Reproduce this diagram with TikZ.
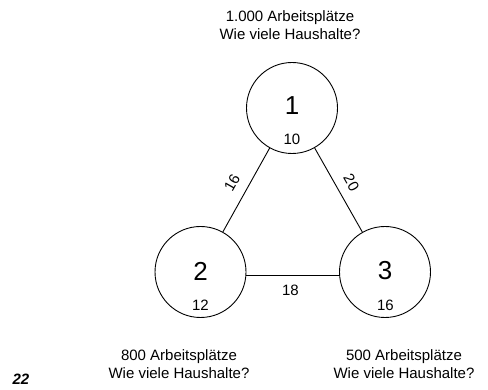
\documentclass[tikz,border=0pt]{standalone}
\usepackage{fontspec}
\setmainfont{Liberation Sans}
\begin{document}
\begin{tikzpicture}[x=1pt,y=-1pt,
  city/.style={circle,draw,line width=0.9pt,minimum size=91pt,inner sep=0pt},
  big/.style={font=\fontsize{26}{30}\selectfont},
  txt/.style={font=\fontsize{15}{18}\selectfont,align=center},
  lbl/.style={font=\fontsize{15}{18}\selectfont,inner sep=0pt},
  edge/.style={line width=0.9pt}]
\useasboundingbox (0,0) rectangle (488,390);
\node[city] (n1) at (292,108) {};
\node[city] (n2) at (200.5,272) {};
\node[city] (n3) at (385,272) {};
\node[big] (b1) at (292,106) {1};
\node[big] (b2) at (200.5,271) {2};
\node[big] (b3) at (385,271) {3};
\node[lbl] (s1) at (292,139) {10};
\node[lbl] (s2) at (200.5,305) {12};
\node[lbl] (s3) at (385.5,305) {16};
\draw[edge] (n1) -- (n2);
\draw[edge] (n1) -- (n3);
\draw[edge] ([yshift=-3.5pt]n2.east) -- ([yshift=-3.5pt]n3.west);
\node[lbl,rotate=60.7] (e12) at (232,182.5) {16};
\node[lbl,rotate=-60.7] (e13) at (351.5,182.5) {20};
\node[lbl] (e23) at (290.5,290.5) {18};
\node[txt] (t1) at (290,25) {1.000 Arbeitsplätze\\Wie viele Haushalte?};
\node[txt] (t2) at (179,364) {800 Arbeitsplätze\\Wie viele Haushalte?};
\node[txt] (t3) at (404,364) {500 Arbeitsplätze\\Wie viele Haushalte?};
\node[font=\fontsize{15}{18}\selectfont\bfseries\itshape] (pg) at (21,379) {22};
\end{tikzpicture}
\end{document}
